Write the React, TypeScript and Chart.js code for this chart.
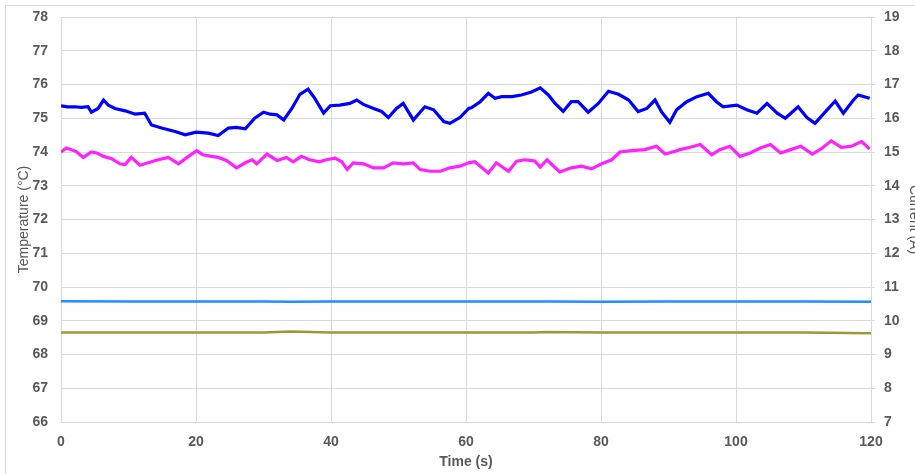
import React, { useEffect, useRef } from "react";
import { Chart, registerables } from "chart.js";

Chart.register(...registerables);

const xTicks = [0, 20, 40, 60, 80, 100, 120];

const tempTopTime = [0, 1, 2, 3, 4, 4.5, 5.5, 6.3, 7, 8, 9.5, 11, 12.4, 13.4, 14.9, 16.9, 18.4, 20, 21.8, 23.3, 24.8, 26, 27.3, 28.7, 30, 31, 32, 33, 34.2, 35.4, 36.6, 37.6, 38.9, 39.9, 41.3, 42.8, 43.8, 44.8, 46.3, 47.5, 48.5, 49.7, 50.7, 52.2, 53.9, 55.2, 56.7, 57.6, 59.1, 60.4, 60.8, 62.1, 63.3, 64.3, 65.3, 66.8, 68.2, 69.7, 71, 72.2, 73.2, 74.4, 75.6, 76.6, 78.1, 79.6, 81.1, 82.6, 84.1, 85.5, 86.8, 88, 89, 90.2, 91.2, 92.7, 94.2, 95.9, 97.1, 98.1, 100.1, 101.6, 103.1, 104.6, 106.1, 107.3, 109.2, 110.5, 111.7, 113.5, 114.7, 115.9, 117.4, 118.1, 119.8];
const tempTopValue = [75.37, 75.34, 75.34, 75.32, 75.34, 75.18, 75.29, 75.54, 75.39, 75.29, 75.22, 75.12, 75.15, 74.8, 74.71, 74.61, 74.51, 74.59, 74.56, 74.49, 74.71, 74.73, 74.69, 75.0, 75.18, 75.12, 75.1, 74.95, 75.29, 75.71, 75.86, 75.59, 75.15, 75.37, 75.39, 75.44, 75.54, 75.41, 75.29, 75.2, 75.02, 75.29, 75.44, 74.95, 75.34, 75.25, 74.9, 74.85, 75.02, 75.29, 75.31, 75.49, 75.74, 75.59, 75.64, 75.64, 75.69, 75.78, 75.9, 75.69, 75.44, 75.2, 75.49, 75.49, 75.18, 75.44, 75.8, 75.71, 75.54, 75.2, 75.29, 75.54, 75.18, 74.88, 75.25, 75.49, 75.64, 75.74, 75.49, 75.34, 75.39, 75.25, 75.15, 75.44, 75.15, 75.0, 75.34, 75.02, 74.85, 75.25, 75.51, 75.15, 75.54, 75.69, 75.59];

const tempLowTime = [0, 0.8, 2.2, 3.3, 4.5, 5.3, 6.3, 7.5, 8.7, 9.5, 10.4, 11.7, 12.9, 14.4, 15.9, 17.4, 18.9, 20.1, 21, 22.3, 23.3, 24.5, 26, 27.3, 28.3, 29, 30.5, 32, 33.4, 34.4, 35.6, 36.8, 38.3, 39.3, 40.6, 41.6, 42.4, 43.3, 44.8, 46.3, 47.8, 49.2, 50.7, 52.2, 53.2, 54.7, 56.2, 57.6, 59.1, 60.4, 61.3, 63.3, 64.5, 66.3, 67.5, 68.7, 70.2, 71, 72, 72.7, 73.9, 75.6, 77.1, 78.6, 80.1, 81.6, 82.8, 84.5, 86.5, 88.2, 89.5, 91, 91.7, 93.2, 94.7, 96.4, 97.6, 99.1, 100.6, 102.1, 103.6, 105.1, 106.6, 108.1, 109.6, 111.3, 112.6, 114.1, 115.6, 117.1, 118.6, 119.8];
const tempLowValue = [74.0, 74.12, 74.02, 73.84, 74.0, 73.97, 73.87, 73.8, 73.65, 73.63, 73.84, 73.61, 73.68, 73.77, 73.84, 73.65, 73.87, 74.04, 73.92, 73.87, 73.84, 73.75, 73.53, 73.68, 73.77, 73.65, 73.94, 73.75, 73.84, 73.71, 73.87, 73.77, 73.71, 73.77, 73.82, 73.71, 73.48, 73.68, 73.65, 73.53, 73.53, 73.68, 73.65, 73.68, 73.48, 73.43, 73.43, 73.53, 73.58, 73.68, 73.71, 73.38, 73.68, 73.43, 73.73, 73.77, 73.73, 73.55, 73.77, 73.63, 73.41, 73.53, 73.58, 73.5, 73.65, 73.77, 74.0, 74.04, 74.07, 74.17, 73.94, 74.02, 74.07, 74.14, 74.22, 73.92, 74.07, 74.17, 73.87, 73.97, 74.12, 74.22, 73.97, 74.07, 74.17, 73.94, 74.09, 74.33, 74.14, 74.17, 74.31, 74.09];

const currentTime = [0, 10, 20, 30, 34, 40, 50, 60, 70, 72, 80, 90, 100, 110, 120];
const currentAValue = [10.58, 10.57, 10.57, 10.57, 10.56, 10.57, 10.57, 10.57, 10.57, 10.57, 10.56, 10.57, 10.57, 10.57, 10.56];
const currentBValue = [9.65, 9.65, 9.65, 9.65, 9.68, 9.65, 9.65, 9.65, 9.65, 9.67, 9.65, 9.65, 9.65, 9.65, 9.63];

const pts = (t: number[], v: number[]) => t.map((x, i) => ({ x, y: v[i] }));

const GRAY = "#595959";
const GRID = "#d9d9d9";
const FONT = "'Liberation Sans', Arial, sans-serif";

export default function App() {
  const ref = useRef<HTMLCanvasElement | null>(null);
  useEffect(() => {
    if (!ref.current) return;
    const chart = new Chart(ref.current, {
      type: "line",
      data: {
        datasets: [
          { label: "T1", data: pts(tempTopTime, tempTopValue), borderColor: "#0000ff", borderWidth: 3.2, yAxisID: "y" },
          { label: "T2", data: pts(tempLowTime, tempLowValue), borderColor: "#ff22ff", borderWidth: 3.2, yAxisID: "y" },
          { label: "I1", data: pts(currentTime, currentAValue), borderColor: "#1e8fff", borderWidth: 2.5, yAxisID: "y2" },
          { label: "I2", data: pts(currentTime, currentBValue), borderColor: "#9a9a3a", borderWidth: 2.5, yAxisID: "y2" },
        ],
      },
      options: {
        animation: false,
        responsive: false,
        maintainAspectRatio: false,
        events: [],
        elements: { point: { radius: 0 }, line: { tension: 0 } },
        layout: { padding: { top: 17, left: 0, right: 0, bottom: 0 } },
        plugins: { legend: { display: false }, tooltip: { enabled: false } },
        scales: {
          x: {
            type: "linear",
            min: 0,
            max: 120,
            afterBuildTicks: (s: any) => { s.ticks = xTicks.map((v) => ({ value: v })); },
            afterFit: (s: any) => { s.height = 52; s.paddingLeft = 0; s.paddingRight = 0; },
            grid: { color: GRID, drawTicks: false },
            border: { color: GRID },
            ticks: { color: GRAY, font: { family: FONT, size: 14, weight: "bold" }, padding: 12, maxRotation: 0 },
            title: { display: true, text: "Time (s)", color: GRAY, font: { family: FONT, size: 14, weight: "bold" }, padding: { top: 0, bottom: 3 } },
          },
          y: {
            position: "left",
            min: 66,
            max: 78,
            afterFit: (s: any) => { s.width = 61; s.paddingTop = 0; s.paddingBottom = 0; },
            grid: { color: GRID, drawTicks: false },
            border: { color: GRID },
            ticks: { stepSize: 1, color: GRAY, font: { family: FONT, size: 14, weight: "bold" }, padding: 13 },
            title: { display: true, text: "Temperature (°C)", color: GRAY, font: { family: FONT, size: 14 }, padding: { top: 16, bottom: 0 } },
          },
          y2: {
            position: "right",
            min: 7,
            max: 19,
            afterFit: (s: any) => { s.width = 55; s.paddingTop = 0; s.paddingBottom = 0; },
            grid: { color: GRID, drawOnChartArea: false, tickLength: 4 },
            border: { color: GRID },
            ticks: { stepSize: 1, color: GRAY, font: { family: FONT, size: 14, weight: "bold" }, padding: 9 },
            title: { display: true, text: "Current (A)", color: GRAY, font: { family: FONT, size: 14 }, padding: { top: 4, bottom: 0 } },
          },
        },
      },
    } as any);
    return () => chart.destroy();
  }, []);

  return (
    <div style={{ position: "fixed", left: 0, top: 0, width: 915, height: 474, overflow: "hidden", background: "#fff" }}>
      <div style={{ position: "absolute", left: 5, top: 5, width: 930, height: 490, border: "1px solid #d9d9d9" }} />
      <canvas ref={ref} width={926} height={474} style={{ position: "absolute", left: 0, top: 0, width: 926, height: 474 }} />
    </div>
  );
}
